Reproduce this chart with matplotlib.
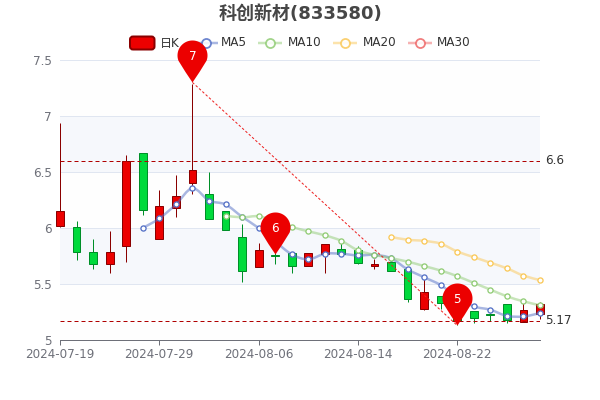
import numpy as np
import matplotlib
matplotlib.use('Agg')
import matplotlib.pyplot as plt
from matplotlib.path import Path
from matplotlib.patches import PathPatch, FancyBboxPatch

plt.rcParams['font.family'] = ['DejaVu Sans', 'Noto Sans CJK SC']

dates = ['2024-07-19', '2024-07-22', '2024-07-23', '2024-07-24', '2024-07-25', '2024-07-26',
         '2024-07-29', '2024-07-30', '2024-07-31', '2024-08-01', '2024-08-02', '2024-08-05',
         '2024-08-06', '2024-08-07', '2024-08-08', '2024-08-09', '2024-08-12', '2024-08-13',
         '2024-08-14', '2024-08-15', '2024-08-16', '2024-08-19', '2024-08-20', '2024-08-21',
         '2024-08-22', '2024-08-23', '2024-08-26', '2024-08-27', '2024-08-28', '2024-08-29']

opens = [6.02, 6.01, 5.79, 5.68, 5.84, 6.67, 5.90, 6.18, 6.40, 6.30, 6.15, 5.92, 5.65, 5.76, 5.78,
         5.66, 5.77, 5.81, 5.80, 5.66, 5.70, 5.63, 5.28, 5.39, 5.25, 5.26, 5.23, 5.32, 5.16, 5.23]
closes = [6.15, 5.79, 5.68, 5.79, 6.60, 6.16, 6.20, 6.29, 6.52, 6.08, 5.98, 5.62, 5.80, 5.75, 5.66,
          5.78, 5.86, 5.77, 5.69, 5.68, 5.62, 5.37, 5.43, 5.33, 5.17, 5.20, 5.22, 5.18, 5.27, 5.32]
lows = [6.01, 5.71, 5.63, 5.60, 5.70, 6.12, 5.90, 6.10, 6.30, 6.08, 5.98, 5.52, 5.65, 5.68, 5.60,
        5.66, 5.60, 5.77, 5.68, 5.63, 5.62, 5.34, 5.27, 5.28, 5.13, 5.155, 5.17, 5.155, 5.16, 5.19]
highs = [6.94, 6.06, 5.90, 5.97, 6.65, 6.67, 6.34, 6.47, 7.29, 6.50, 6.15, 6.04, 5.87, 5.78, 5.78,
         5.78, 5.86, 5.865, 5.84, 5.72, 5.76, 5.63, 5.56, 5.39, 5.25, 5.26, 5.24, 5.32, 5.33, 5.34]

ma5 = [None] * 5 + [6.00, 6.085, 6.21, 6.355, 6.245, 6.21, 6.10, 6.00, 5.88, 5.765, 5.72, 5.77, 5.77,
                    5.755, 5.76, 5.73, 5.63, 5.56, 5.49, 5.38, 5.30, 5.27, 5.215, 5.21, 5.24]
ma10 = [None] * 10 + [6.11, 6.095, 6.105, 6.06, 6.01, 5.97, 5.935, 5.885, 5.80, 5.76, 5.73, 5.70,
                      5.66, 5.62, 5.57, 5.51, 5.45, 5.39, 5.345, 5.31]
ma20 = [None] * 20 + [5.92, 5.895, 5.885, 5.86, 5.79, 5.74, 5.69, 5.64, 5.575, 5.535]

ma_names = ['MA5', 'MA10', 'MA20', 'MA30']
ma_colors = ['#5470c6', '#91cc75', '#fac858', '#ee6666']

pin_idx = [8, 13, 24]
pin_vals = [7.30, 5.77, 5.13]
pin_labels = ['7', '6', '5']

hline_vals = [6.6, 5.17]
hline_labels = ['6.6', '5.17']

up_fill, up_edge = '#ec0000', '#8A0000'
down_fill, down_edge = '#00da3c', '#008F28'
px = 0.72  # one pixel in points at dpi 100


def smooth_line(ax, xs, ys, color):
    # bezier through the points, same kind of curve as a smoothed series
    pts = np.column_stack([xs, ys])
    verts = [pts[0]]
    codes = [Path.MOVETO]
    for i in range(len(pts) - 1):
        before = pts[max(i - 1, 0)]
        after = pts[min(i + 2, len(pts) - 1)]
        verts += [pts[i] + (pts[i + 1] - before) / 6, pts[i + 1] - (after - pts[i]) / 6, pts[i + 1]]
        codes += [Path.CURVE4] * 3
    ax.add_patch(PathPatch(Path(verts, codes), fc='none', ec=color, lw=2.5 * px, alpha=0.5,
                           zorder=4, clip_on=False))
    ax.plot(xs, ys, ls='none', marker='o', ms=3.7, mfc='white', mec=color, mew=1.3 * px,
            zorder=5, clip_on=False)


fig = plt.figure(figsize=(6, 4), dpi=100)

# legend sits under the chart axes so pin 7 covers it
leg = fig.add_axes([0, 0, 1, 1], zorder=0)
leg.set_xlim(0, 600)
leg.set_ylim(400, 0)
leg.axis('off')
leg.add_patch(FancyBboxPatch((130, 36.5), 24.5, 13, boxstyle='round,pad=0,rounding_size=3',
                             fc=up_fill, ec=up_edge, lw=2 * px))
leg.text(160, 43, '日K', fontsize=8.64, color='#333333', va='center', ha='left')
leg_centers = [206, 270, 345, 420]
leg_text_x = [220.5, 288, 362.5, 437]
for c, tx, name, col in zip(leg_centers, leg_text_x, ma_names, ma_colors):
    leg.plot([c - 12, c + 12], [43, 43], color=col, lw=2.5 * px, alpha=0.5, solid_capstyle='butt')
    leg.plot([c], [43], marker='o', ms=6.5, mfc='white', mec=col, mew=1.8 * px, alpha=0.85)
    leg.text(tx, 43, name, fontsize=8.64, color='#333333', va='center', ha='left')

ax = fig.add_axes([0.1, 0.15, 0.8, 0.7], zorder=1)
ax.patch.set_alpha(0)
ax.set_xlim(0, len(dates) - 1)
ax.set_ylim(5, 7.5)

# split areas and split lines
y_ticks = [5, 5.5, 6, 6.5, 7, 7.5]
for i in range(len(y_ticks) - 1):
    ax.axhspan(y_ticks[i], y_ticks[i + 1], color='#f6f8fc' if i % 2 else '#fefefe', lw=0, zorder=0)
for v in y_ticks[1:]:
    ax.axhline(v, color='#E0E6F1', lw=1 * px, zorder=1)

x = np.arange(len(dates))

# candles
for i in x:
    up = closes[i] >= opens[i]
    fill, edge = (up_fill, up_edge) if up else (down_fill, down_edge)
    ax.vlines(i, lows[i], highs[i], color=edge, lw=1 * px, zorder=2, clip_on=False)
    ax.bar(i, abs(closes[i] - opens[i]), bottom=min(opens[i], closes[i]), width=0.47,
           color=fill, edgecolor=edge, linewidth=1 * px, zorder=3, clip_on=False)

# moving averages, MA30 has no values yet
for vals, col in zip([ma5, ma10, ma20], ma_colors):
    xs = [i for i, v in zip(x, vals) if v is not None]
    ys = [v for v in vals if v is not None]
    smooth_line(ax, xs, ys, col)

# mark lines
for v, lab in zip(hline_vals, hline_labels):
    ax.plot([0, len(dates) - 1], [v, v], color='#b00000', lw=1 * px, ls=(0, (4, 3)), zorder=6)
    ax.annotate(lab, (len(dates) - 1, v), xytext=(5 * px, 0), textcoords='offset points',
                fontsize=8.64, color='#333333', va='center', ha='left', annotation_clip=False)
ax.plot([pin_idx[0], pin_idx[2]], [pin_vals[0], pin_vals[2]], color='#ee2020', lw=1 * px,
        ls=(0, (2.5, 2)), zorder=6)

# pins, tip of the shape at the marked point
ang = np.radians(np.linspace(-20, 200, 40))
pin_x = list(15 * np.cos(ang))
pin_y = list(27 + 15 * np.sin(ang))
pin_verts = [(0, 0), (7, 10), (pin_x[0], pin_y[0])] + list(zip(pin_x, pin_y)) + [(-7, 10), (0, 0), (0, 0)]
pin_codes = [Path.MOVETO, Path.CURVE3, Path.CURVE3] + [Path.LINETO] * len(pin_x) + [Path.CURVE3, Path.CURVE3, Path.CLOSEPOLY]
pin_path = Path(pin_verts, pin_codes)
for i, v, lab in zip(pin_idx, pin_vals, pin_labels):
    ax.plot([i], [v], marker=pin_path, ms=84 * px, mfc='#ec0000', mec='none', ls='none',
            zorder=8, clip_on=False, snap=False)
    ax.annotate(lab, (i, v), xytext=(0, 25.5 * px), textcoords='offset points', fontsize=8.64,
                color='white', ha='center', va='center', zorder=9, annotation_clip=False)

ax.set_xticks(x[::6])
ax.set_xticklabels(dates[::6])
ax.set_yticks(y_ticks)
ax.set_yticklabels(['5', '5.5', '6', '6.5', '7', '7.5'])
ax.tick_params(axis='y', length=0, pad=8 * px, labelsize=8.64, labelcolor='#6E7079')
ax.tick_params(axis='x', length=5 * px, width=1 * px, color='#6E7079', pad=2.2,
               labelsize=8.64, labelcolor='#6E7079')
for side in ['top', 'right', 'left']:
    ax.spines[side].set_visible(False)
ax.spines['bottom'].set_color('#6E7079')
ax.spines['bottom'].set_linewidth(1 * px)

fig.text(0.5, 1 - 14 / 400, '科创新材(833580)', fontsize=12.96, fontweight='bold', color='#464646',
         ha='center', va='center')

fig.savefig('out.png', dpi=100)
